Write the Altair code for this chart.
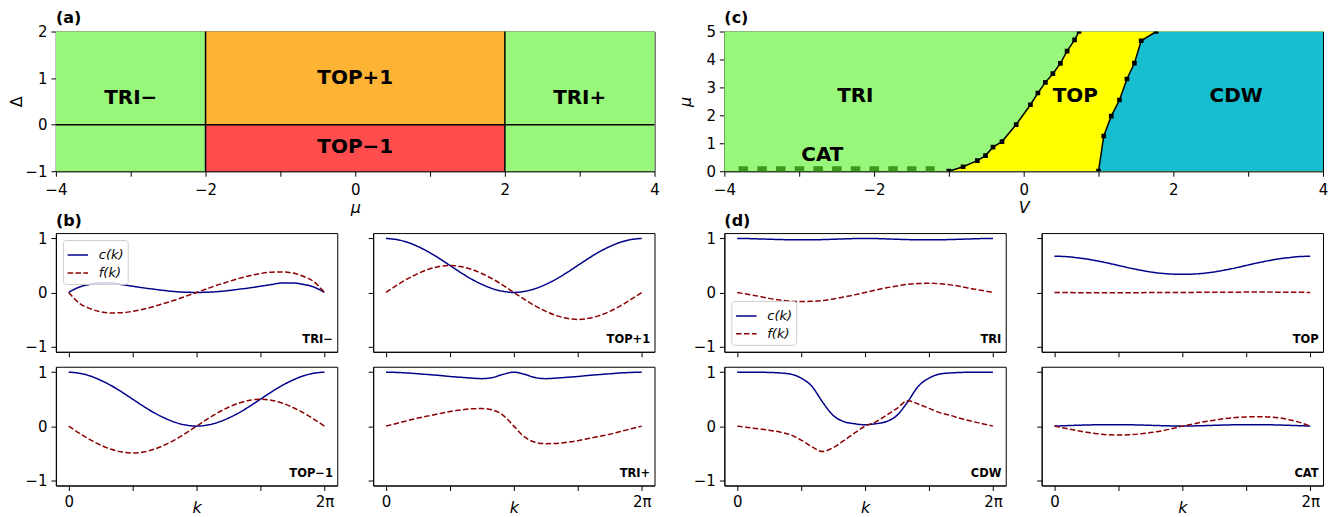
import math
import altair as alt
import pandas as pd

PI = math.pi
FONT = "DejaVu Sans"

# ---------------- colours ----------------
GREEN = "#98f67b"
ORANGE = "#fdb434"
RED = "#ff4d4d"
YELLOW = "#ffff00"
CYAN = "#17becf"
CAT_GREEN = "#3c9a1a"
NAVY = "#00008b"
DARKRED = "#8b0000"

# ---------------- panel (a) data ----------------
A_REGION = ["TRI−", "TRI+", "TOP+1", "TOP−1"]
A_MU_LO = [-4, 2, -2, -2]
A_MU_HI = [-2, 4, 2, 2]
A_DELTA_LO = [-1, -1, 0, -1]
A_DELTA_HI = [2, 2, 2, 0]
A_VLINE_MU = [-2, 2]
A_HLINE_DELTA = [0]
A_TEXT = ["TRI−", "TOP+1", "TRI+", "TOP−1"]
A_TEXT_MU = [-3, 0, 3, 0]
A_TEXT_DELTA = [0.57, 1.0, 0.57, -0.47]
A_MU_RANGE = [-4, 4]
A_DELTA_RANGE = [-1, 2]
A_MU_TICKS = [-4, -3, -2, -1, 0, 1, 2, 3, 4]
A_DELTA_TICKS = [-1, 0, 1, 2]

# ---------------- panel (c) data ----------------
C_V_RANGE = [-4, 4]
C_MU_RANGE = [0, 5]
C_V_TICKS = [-4, -3, -2, -1, 0, 1, 2, 3, 4]
C_MU_TICKS = [0, 1, 2, 3, 4, 5]
C_LEFT_V = [-1.0, -0.81, -0.62, -0.51, -0.41, -0.29, -0.10, 0.09, 0.19, 0.29, 0.39, 0.49, 0.58, 0.68, 0.74]
C_LEFT_MU = [0.0, 0.16, 0.38, 0.56, 0.86, 1.06, 1.67, 2.38, 2.80, 3.18, 3.49, 3.86, 4.30, 4.70, 5.0]
C_RIGHT_V = [1.0, 1.07, 1.17, 1.28, 1.38, 1.48, 1.57, 1.77]
C_RIGHT_MU = [0.0, 1.26, 1.97, 2.55, 3.30, 3.87, 4.67, 5.0]
C_CAT_V = [-3.81, -1.19]
C_CAT_MU = [0.09, 0.09]
C_TEXT = ["TRI", "TOP", "CDW", "CAT"]
C_TEXT_V = [-2.25, 0.69, 2.84, -2.69]
C_TEXT_MU = [2.68, 2.68, 2.68, 0.57]

# ---------------- bottom panels data ----------------
K_OVER_PI = [i / 12 for i in range(25)]
K = [x * PI for x in K_OVER_PI]
K_TICKS = [0, PI / 2, PI, 3 * PI / 2, 2 * PI]
SERIES = ["c(k)", "f(k)"]
TAG_K = 6.49
TAG_V = -0.88

B1_TAG = "TRI−"
B1_C = [0, 0.1, 0.15, 0.175, 0.175, 0.145, 0.115, 0.085, 0.06, 0.035, 0.015, 0.004, 0,
        0.004, 0.015, 0.035, 0.06, 0.085, 0.115, 0.145, 0.175, 0.175, 0.15, 0.1, 0]
B1_F = [0, -0.2, -0.3, -0.36, -0.38, -0.375, -0.35, -0.31, -0.26, -0.2, -0.14, -0.07, 0,
        0.07, 0.14, 0.2, 0.26, 0.31, 0.35, 0.375, 0.38, 0.36, 0.3, 0.2, 0]

B2_TAG = "TOP+1"
B2_C = [1.0, 0.98, 0.93, 0.85, 0.75, 0.63, 0.5, 0.37, 0.25, 0.15, 0.07, 0.02, 0.0,
        0.02, 0.07, 0.15, 0.25, 0.37, 0.5, 0.63, 0.75, 0.85, 0.93, 0.98, 1.0]
B2_F = [0, 0.13, 0.25, 0.35, 0.43, 0.48, 0.5, 0.48, 0.43, 0.35, 0.25, 0.13, 0,
        -0.13, -0.25, -0.35, -0.43, -0.48, -0.5, -0.48, -0.43, -0.35, -0.25, -0.13, 0]

B3_TAG = "TOP−1"
B3_C = [1.0, 0.98, 0.93, 0.85, 0.75, 0.63, 0.5, 0.37, 0.25, 0.15, 0.07, 0.02, 0.0,
        0.02, 0.07, 0.15, 0.25, 0.37, 0.5, 0.63, 0.75, 0.85, 0.93, 0.98, 1.0]
B3_F = [0, -0.13, -0.25, -0.35, -0.43, -0.48, -0.5, -0.48, -0.43, -0.35, -0.25, -0.13, 0,
        0.13, 0.25, 0.35, 0.43, 0.48, 0.5, 0.48, 0.43, 0.35, 0.25, 0.13, 0]

B4_TAG = "TRI+"
B4_C = [1.0, 0.995, 0.985, 0.97, 0.955, 0.94, 0.92, 0.905, 0.89, 0.88, 0.9, 0.96, 1.0,
        0.96, 0.9, 0.88, 0.89, 0.905, 0.92, 0.94, 0.955, 0.97, 0.985, 0.995, 1.0]
B4_F = [0, 0.05, 0.1, 0.15, 0.19, 0.23, 0.27, 0.3, 0.32, 0.325, 0.3, 0.2, 0,
        -0.2, -0.3, -0.325, -0.32, -0.3, -0.27, -0.23, -0.19, -0.15, -0.1, -0.05, 0]

D1_TAG = "TRI"
D1_C = [1.0, 0.998, 0.992, 0.986, 0.98, 0.976, 0.974, 0.975, 0.979, 0.985, 0.992, 0.998, 1.0,
        0.998, 0.992, 0.985, 0.979, 0.975, 0.974, 0.976, 0.98, 0.986, 0.992, 0.998, 1.0]
D1_F = [0, -0.035, -0.07, -0.11, -0.14, -0.16, -0.17, -0.165, -0.15, -0.12, -0.085, -0.045, 0,
        0.045, 0.085, 0.12, 0.15, 0.165, 0.17, 0.16, 0.14, 0.11, 0.07, 0.035, 0]

D2_TAG = "TOP"
D2_C = [0.67, 0.665, 0.645, 0.62, 0.585, 0.545, 0.5, 0.455, 0.415, 0.38, 0.355, 0.34, 0.335,
        0.34, 0.355, 0.38, 0.415, 0.455, 0.5, 0.545, 0.585, 0.62, 0.645, 0.665, 0.67]
D2_F = [0, -0.002, -0.004, -0.005, -0.006, -0.006, -0.006, -0.005, -0.004, -0.003, -0.002, -0.001, 0,
        0.001, 0.002, 0.003, 0.004, 0.005, 0.006, 0.006, 0.006, 0.005, 0.004, 0.002, 0]

D3_TAG = "CDW"
D3_C = [1.0, 1.0, 0.998, 0.995, 0.985, 0.965, 0.89, 0.74, 0.45, 0.2, 0.085, 0.045, 0.025,
        0.045, 0.085, 0.2, 0.45, 0.74, 0.89, 0.965, 0.985, 0.995, 0.998, 1.0, 1.0]
D3_F = [0, -0.025, -0.05, -0.075, -0.11, -0.16, -0.26, -0.38, -0.47, -0.4, -0.27, -0.13, 0,
        0.08, 0.2, 0.33, 0.47, 0.41, 0.33, 0.25, 0.2, 0.14, 0.09, 0.045, 0]

D4_TAG = "CAT"
D4_C = [0, 0.008, 0.015, 0.021, 0.025, 0.027, 0.027, 0.025, 0.021, 0.015, 0.009, 0.004, 0,
        0.004, 0.009, 0.015, 0.021, 0.025, 0.027, 0.027, 0.025, 0.021, 0.015, 0.008, 0]
D4_F = [0, -0.04, -0.08, -0.115, -0.14, -0.16, -0.165, -0.16, -0.145, -0.12, -0.09, -0.05, 0,
        0.04, 0.08, 0.11, 0.14, 0.16, 0.17, 0.175, 0.17, 0.155, 0.12, 0.07, 0]

# ---------------- layout constants ----------------
BIG_W, BIG_H = 600, 140
SMALL_W, SMALL_H = 282, 119
Y_EXT = 31
EVEN_ONLY = "datum.value % 2 === 0 ? datum.label : ''"
K_LABELS = "datum.value < 0.1 ? '0' : (datum.value > 6 ? '2π' : '')"


def title_params(text, offset):
    return alt.TitleParams(text=text, anchor="start", frame="group", fontSize=16,
                           fontWeight="bold", offset=offset, font=FONT, color="black")


# ---------------- panel (a) ----------------
a_rect_df = pd.DataFrame({"mu": A_MU_LO, "mu2": A_MU_HI, "d": A_DELTA_LO, "d2": A_DELTA_HI,
                          "region": A_REGION})
a_xscale = alt.Scale(domain=A_MU_RANGE, nice=False, zero=False)
a_yscale = alt.Scale(domain=A_DELTA_RANGE, nice=False, zero=False)
a_xaxis = alt.Axis(values=A_MU_TICKS, labelExpr=EVEN_ONLY, title="μ", titlePadding=2, labelPadding=6)
a_yaxis = alt.Axis(values=A_DELTA_TICKS, title="Δ", titleFontStyle="normal",
                   minExtent=Y_EXT, maxExtent=Y_EXT, titlePadding=0)

a_rects = alt.Chart(a_rect_df).mark_rect().encode(
    x=alt.X("mu:Q", scale=a_xscale, axis=a_xaxis),
    x2="mu2",
    y=alt.Y("d:Q", scale=a_yscale, axis=a_yaxis),
    y2="d2",
    color=alt.Color("region:N", scale=alt.Scale(domain=A_REGION, range=[GREEN, GREEN, ORANGE, RED]),
                    legend=None),
)
a_vlines = alt.Chart(pd.DataFrame({"mu": A_VLINE_MU})).mark_rule(color="black", strokeWidth=1.5).encode(
    x=alt.X("mu:Q", scale=a_xscale, axis=a_xaxis))
a_hlines = alt.Chart(pd.DataFrame({"d": A_HLINE_DELTA})).mark_rule(color="black", strokeWidth=1.5).encode(
    y=alt.Y("d:Q", scale=a_yscale, axis=a_yaxis))
a_text = alt.Chart(pd.DataFrame({"mu": A_TEXT_MU, "d": A_TEXT_DELTA, "t": A_TEXT})).mark_text(
    fontSize=20, fontWeight="bold", font=FONT, color="black").encode(
    x=alt.X("mu:Q", scale=a_xscale, axis=a_xaxis),
    y=alt.Y("d:Q", scale=a_yscale, axis=a_yaxis),
    text="t:N")
panel_a = alt.layer(a_rects, a_vlines, a_hlines, a_text).properties(
    width=BIG_W, height=BIG_H, title=title_params("(a)", -1))

# ---------------- panel (c) ----------------
c_xscale = alt.Scale(domain=C_V_RANGE, nice=False, zero=False)
c_yscale = alt.Scale(domain=C_MU_RANGE, nice=False, zero=False)
c_xaxis = alt.Axis(values=C_V_TICKS, labelExpr=EVEN_ONLY, title="V", titlePadding=2, labelPadding=6)
c_yaxis = alt.Axis(values=C_MU_TICKS, title="μ", minExtent=Y_EXT, maxExtent=Y_EXT, titlePadding=0)


def cx():
    return alt.X("V:Q", scale=c_xscale, axis=c_xaxis)


def cy():
    return alt.Y("mu:Q", scale=c_yscale, axis=c_yaxis)


c_bg = alt.Chart(pd.DataFrame({"V": [C_V_RANGE[0]], "V2": [C_V_RANGE[1]],
                               "mu": [C_MU_RANGE[0]], "mu2": [C_MU_RANGE[1]]})).mark_rect(
    color=GREEN).encode(x=cx(), x2="V2", y=cy(), y2="mu2")
left_df = pd.DataFrame({"V": C_LEFT_V, "mu": C_LEFT_MU, "Vend": [C_V_RANGE[1]] * len(C_LEFT_V)})
right_df = pd.DataFrame({"V": C_RIGHT_V, "mu": C_RIGHT_MU, "Vend": [C_V_RANGE[1]] * len(C_RIGHT_V)})
c_yellow = alt.Chart(left_df).mark_area(orient="horizontal", color=YELLOW, clip=True).encode(
    x=cx(), x2="Vend", y=cy())
c_cyan = alt.Chart(right_df).mark_area(orient="horizontal", color=CYAN, clip=True).encode(
    x=cx(), x2="Vend", y=cy())
c_cat = alt.Chart(pd.DataFrame({"V": C_CAT_V, "mu": C_CAT_MU})).mark_line(
    color=CAT_GREEN, strokeWidth=5, strokeDash=[9.5, 9.25], strokeCap="butt").encode(x=cx(), y=cy())


def boundary(df):
    line = alt.Chart(df).mark_line(color="black", strokeWidth=1.5, clip=True).encode(
        x=cx(), y=cy(), order="mu:Q")
    pts = alt.Chart(df).mark_square(color="black", size=22, opacity=1, clip=True).encode(
        x=cx(), y=cy())
    return [line, pts]


c_text = alt.Chart(pd.DataFrame({"V": C_TEXT_V, "mu": C_TEXT_MU, "t": C_TEXT})).mark_text(
    fontSize=20, fontWeight="bold", font=FONT, color="black").encode(x=cx(), y=cy(), text="t:N")
panel_c = alt.layer(c_bg, c_yellow, c_cyan, c_cat, *boundary(left_df), *boundary(right_df), c_text).properties(
    width=BIG_W, height=BIG_H, title=title_params("(c)", -1))


# ---------------- small panels ----------------
def small(c_vals, f_vals, tag, bottom_row, left_col, legend_orient=None, title=None):
    df = pd.DataFrame({"k": K + K, "v": c_vals + f_vals,
                       "s": [SERIES[0]] * len(K) + [SERIES[1]] * len(K)})
    xkw = dict(values=K_TICKS, labelExpr=K_LABELS, minExtent=0, labelPadding=4)
    if bottom_row:
        xkw.update(title="k", titleY=27, titleBaseline="alphabetic", titleFontSize=16)
    else:
        xkw.update(labels=False, title=None)
    ykw = dict(values=[-1, 0, 1])
    if left_col:
        ykw.update(title=" ", minExtent=Y_EXT, maxExtent=Y_EXT, titlePadding=0)
    else:
        ykw.update(labels=False, title=None, minExtent=0)
    if legend_orient:
        leg = alt.Legend(orient=legend_orient, title=None)
    else:
        leg = None
    lines = alt.Chart(df).mark_line(strokeWidth=1.5, interpolate="monotone").encode(
        x=alt.X("k:Q", scale=alt.Scale(domain=[-0.1 * PI, 2.1 * PI], nice=False, zero=False),
                axis=alt.Axis(**xkw)),
        y=alt.Y("v:Q", scale=alt.Scale(domain=[-1.1, 1.1], nice=False, zero=False),
                axis=alt.Axis(**ykw)),
        color=alt.Color("s:N", scale=alt.Scale(domain=SERIES, range=[NAVY, DARKRED]), legend=leg),
        strokeDash=alt.StrokeDash("s:N", scale=alt.Scale(domain=SERIES, range=[[1, 0], [5.5, 2.4]]),
                                  legend=leg),
    )
    txt = alt.Chart(pd.DataFrame({"k": [TAG_K], "v": [TAG_V], "t": [tag]})).mark_text(
        align="right", baseline="middle", fontSize=11.5, fontWeight="bold", font=FONT,
        color="black").encode(x="k:Q", y="v:Q", text="t:N")
    props = dict(width=SMALL_W, height=SMALL_H)
    if title is not None:
        props["title"] = title_params(title, 2 if left_col else 4)
    return alt.layer(lines, txt).properties(**props)


def indep(ch):
    return ch.resolve_scale(color="independent", strokeDash="independent")


b1 = small(B1_C, B1_F, B1_TAG, False, True, legend_orient="top-left", title="(b)")
b2 = small(B2_C, B2_F, B2_TAG, False, False, title=" ")
b3 = small(B3_C, B3_F, B3_TAG, True, True)
b4 = small(B4_C, B4_F, B4_TAG, True, False)
d1 = small(D1_C, D1_F, D1_TAG, False, True, legend_orient="bottom-left", title="(d)")
d2 = small(D2_C, D2_F, D2_TAG, False, False, title=" ")
d3 = small(D3_C, D3_F, D3_TAG, True, True)
d4 = small(D4_C, D4_F, D4_TAG, True, False)

COL_SP = 29
ROW_SP = 6
bgrid = indep(alt.vconcat(indep(alt.hconcat(b1, b2, spacing=COL_SP)),
                          indep(alt.hconcat(b3, b4, spacing=COL_SP)), spacing=ROW_SP))
dgrid = indep(alt.vconcat(indep(alt.hconcat(d1, d2, spacing=COL_SP)),
                          indep(alt.hconcat(d3, d4, spacing=COL_SP)), spacing=ROW_SP))

left_col = indep(alt.vconcat(panel_a, bgrid, spacing=-4))
right_col = indep(alt.vconcat(panel_c, dgrid, spacing=-4))
chart = indep(alt.hconcat(left_col, right_col, spacing=16)).properties(
    padding={"left": 0, "top": 0, "right": 0, "bottom": 0})

chart = chart.configure_view(stroke="black", strokeWidth=1).configure_axis(
    labelFont=FONT, labelFontSize=15, labelColor="black", tickColor="black", tickSize=5,
    tickWidth=1, domainColor="black", domainWidth=1, grid=False, labelFlush=False,
    labelOverlap=False, labelPadding=4, titleFont=FONT, titleFontSize=16,
    titleFontWeight="normal", titleColor="black", titleFontStyle="italic",
).configure_legend(
    fillColor="rgba(255,255,255,0.8)", strokeColor="#cccccc", cornerRadius=3, padding=4,
    labelFont=FONT, labelFontSize=13, labelFontStyle="italic", labelColor="black",
    labelOffset=10, symbolStrokeWidth=1.5, symbolSize=420, symbolType="stroke",
    rowPadding=0, offset=7,
).configure_text(font=FONT)

chart.save("out.html", embed_options={"renderer": "svg", "actions": False})
